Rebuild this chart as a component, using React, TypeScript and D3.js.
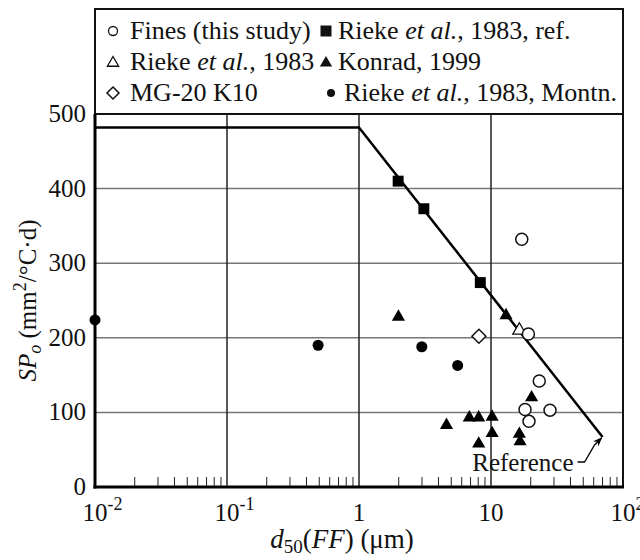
import React from "react";
import * as d3 from "d3";

const finesThisStudy: [number, number][] = [[17.1, 332], [19.2, 205], [23.2, 142], [18.1, 104], [28, 103], [19.4, 88]];
const rieke1983: [number, number][] = [[16.4, 210]];
const mg20K10: [number, number][] = [[8.1, 202]];
const riekeRef: [number, number][] = [[1.98, 410], [3.1, 373], [8.3, 274]];
const konrad1999: [number, number][] = [[1.99, 228], [13, 230], [20.3, 120], [4.6, 83], [6.85, 93], [8.07, 93], [10.2, 94], [10.2, 72], [8.07, 58], [16.4, 71], [16.6, 61]];
const riekeMontn: [number, number][] = [[0.01, 224], [0.49, 190], [2.99, 188], [5.59, 163]];
const referenceLine: [number, number][] = [[0.01, 482], [1, 482], [70, 67]];
const yTicks = [0, 100, 200, 300, 400, 500];
const xTicks: { v: number; base: string; sup: string }[] = [
  { v: 0.01, base: "10", sup: "-2" },
  { v: 0.1, base: "10", sup: "-1" },
  { v: 1, base: "1", sup: "" },
  { v: 10, base: "10", sup: "" },
  { v: 100, base: "10", sup: "2" },
];

const FONT = "'Liberation Serif', 'Times New Roman', serif";

export default function App() {
  const W = 640, H = 560;
  const left = 95, right = 623, top = 114, bottom = 487;
  const x = d3.scaleLog().domain([0.01, 100]).range([left, right]);
  const y = d3.scaleLinear().domain([0, 500]).range([bottom, top]);

  const minor: number[] = [];
  for (let e = -2; e < 2; e++) for (let k = 2; k <= 9; k++) minor.push(k * Math.pow(10, e));

  const line = d3.line<[number, number]>().x(d => x(d[0])).y(d => y(d[1]));
  const tri = d3.symbol().type(d3.symbolTriangle).size(75)()!;
  const sq = d3.symbol().type(d3.symbolSquare).size(120)()!;
  const dia = "M0,-7 L7,0 L0,7 L-7,0 Z";

  const end = referenceLine[referenceLine.length - 1];
  const ex = x(end[0]), ey = y(end[1]);

  const legRows = [39, 70, 101];
  const c1 = 113, t1 = 130, c2 = 326, t2 = 338;
  const LF = 26;
  const TF = 25;

  return (
    <svg width={W} height={H} style={{ position: "absolute", left: 0, top: 0, background: "#fff" }} fontFamily={FONT}>
      <defs>
        <marker id="arr" viewBox="0 0 10 10" refX="9" refY="5" markerWidth="7" markerHeight="7" orient="auto-start-reverse">
          <path d="M0,1 L10,5 L0,9 L3,5 Z" fill="#000" />
        </marker>
      </defs>
      {/* legend box */}
      <rect x={left} y={9} width={right - left} height={top - 9} fill="none" stroke="#111" strokeWidth={2} />
      <g fontSize={LF} fill="#111">
        <circle cx={c1} cy={legRows[0] - 8} r={4.5} fill="none" stroke="#111" strokeWidth={1.3} />
        <text x={t1} y={legRows[0]}>Fines (this study)</text>
        <path d={d3.symbol().type(d3.symbolTriangle).size(55)()!} transform={`translate(${c1},${legRows[1] - 7})`} fill="none" stroke="#111" strokeWidth={1.3} />
        <text x={t1} y={legRows[1]}>Rieke <tspan fontStyle="italic">et al.</tspan>, 1983</text>
        <path d="M0,-6 L6,0 L0,6 L-6,0 Z" transform={`translate(${c1},${legRows[2] - 8})`} fill="none" stroke="#111" strokeWidth={1.5} />
        <text x={t1} y={legRows[2]}>MG-20 K10</text>
        <rect x={c2 - 5.5} y={legRows[0] - 13.5} width={11} height={11} fill="#111" />
        <text x={t2} y={legRows[0]}>Rieke <tspan fontStyle="italic">et al.</tspan>, 1983, ref.</text>
        <path d={d3.symbol().type(d3.symbolTriangle).size(65)()!} transform={`translate(${c2},${legRows[1] - 7})`} fill="#111" />
        <text x={t2} y={legRows[1]}>Konrad, 1999</text>
        <circle cx={c2 + 5} cy={legRows[2] - 8} r={4} fill="#111" />
        <text x={t2 + 6} y={legRows[2]}>Rieke <tspan fontStyle="italic">et al.</tspan>, 1983, Montn.</text>
      </g>

      {/* grid */}
      {yTicks.filter(v => v > 0 && v < 500).map(v => (
        <line key={"h" + v} x1={left} x2={right} y1={y(v)} y2={y(v)} stroke="#777" strokeWidth={1.5} />
      ))}
      {[0.1, 1, 10].map(v => (
        <line key={"v" + v} x1={x(v)} x2={x(v)} y1={top} y2={bottom} stroke="#222" strokeWidth={1.5} />
      ))}
      {minor.map(v => (
        <line key={"m" + v} x1={x(v)} x2={x(v)} y1={bottom} y2={bottom - 10} stroke="#222" strokeWidth={1} />
      ))}
      {/* frame */}
      <line x1={right} x2={right} y1={top} y2={bottom} stroke="#111" strokeWidth={2} />
      <line x1={left} x2={left} y1={top} y2={bottom + 1.5} stroke="#000" strokeWidth={3} />
      <line x1={left - 1.5} x2={right + 1} y1={bottom} y2={bottom} stroke="#000" strokeWidth={3} />

      {/* reference line */}
      <path d={line(referenceLine)!} fill="none" stroke="#000" strokeWidth={2.5} />

      {/* points */}
      {riekeRef.map((d, i) => <path key={"s" + i} d={sq} transform={`translate(${x(d[0])},${y(d[1])})`} fill="#000" />)}
      {konrad1999.map((d, i) => <path key={"t" + i} d={tri} transform={`translate(${x(d[0])},${y(d[1])})`} fill="#000" />)}
      {riekeMontn.map((d, i) => <circle key={"c" + i} cx={x(d[0])} cy={y(d[1])} r={5.5} fill="#000" />)}
      {rieke1983.map((d, i) => <path key={"ot" + i} d={tri} transform={`translate(${x(d[0])},${y(d[1])})`} fill="#fff" stroke="#111" strokeWidth={1.3} />)}
      {mg20K10.map((d, i) => <path key={"d" + i} d={dia} transform={`translate(${x(d[0])},${y(d[1])})`} fill="#fff" stroke="#111" strokeWidth={1.5} />)}
      {finesThisStudy.map((d, i) => <circle key={"o" + i} cx={x(d[0])} cy={y(d[1])} r={6} fill="#fff" stroke="#111" strokeWidth={1.5} />)}

      {/* annotation */}
      <text x={ex - 29} y={ey + 34} textAnchor="end" fontSize={TF} fill="#111">Reference</text>
      <path d={`M${ex - 25},${ey + 25} L${ex - 18},${ey + 25} L${ex - 8},${ey + 8} L${ex - 1},${ey + 1}`} fill="none" stroke="#000" strokeWidth={1.3} markerEnd="url(#arr)" />

      {/* y ticks */}
      <g fontSize={TF} fill="#111" textAnchor="end">
        {yTicks.map(v => <text key={"yl" + v} x={left - 9} y={y(v) + 8}>{v}</text>)}
      </g>
      {/* x ticks */}
      <g fontSize={TF} fill="#111">
        {xTicks.map(t => (
          <text key={"xl" + t.v} x={x(t.v) - (t.base.length * TF * 0.5) / 2} y={bottom + 34}>
            {t.base}
            {t.sup && <tspan dy={-11} fontSize={18}>{t.sup}</tspan>}
          </text>
        ))}
      </g>
      {/* axis titles */}
      <text x={(left + right) / 2 - 17} y={bottom + 61} textAnchor="middle" fontSize={27} fill="#111">
        <tspan fontStyle="italic">d</tspan>
        <tspan fontSize={19} dy={5}>50</tspan>
        <tspan dy={-5}>(</tspan>
        <tspan fontStyle="italic">FF</tspan>
        <tspan>) (μm)</tspan>
      </text>
      <text transform={`translate(36,${(top + bottom) / 2}) rotate(-90)`} textAnchor="middle" fontSize={25} fill="#111">
        <tspan fontStyle="italic">SP</tspan>
        <tspan fontStyle="italic" fontSize={18} dy={5}>o</tspan>
        <tspan dy={-5}> (mm</tspan>
        <tspan fontSize={18} dy={-10}>2</tspan>
        <tspan dy={10}>/°C·d)</tspan>
      </text>
    </svg>
  );
}
